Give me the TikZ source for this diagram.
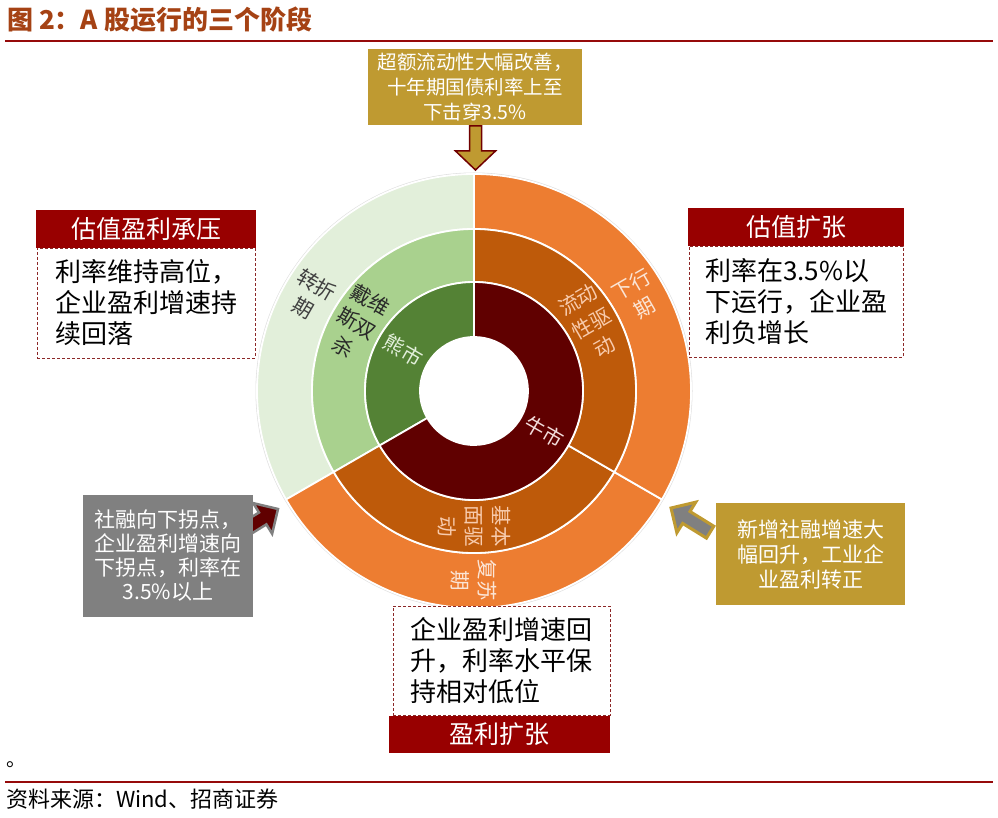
\documentclass[tikz,border=0pt]{standalone}
\usepackage{fontspec}
\setmainfont{Noto Sans CJK SC}
\usetikzlibrary{calc}
\definecolor{barred}{RGB}{152,0,0}
\definecolor{dashred}{RGB}{140,40,40}
\definecolor{rulered}{RGB}{150,10,10}
\definecolor{titlebrown}{RGB}{165,66,20}
\definecolor{gold}{RGB}{191,154,49}
\definecolor{boxgray}{RGB}{128,128,128}
\definecolor{grnA}{RGB}{226,239,218}
\definecolor{grnB}{RGB}{169,209,142}
\definecolor{grnC}{RGB}{84,130,53}
\definecolor{orA}{RGB}{237,125,49}
\definecolor{orB}{RGB}{190,90,10}
\definecolor{darkred}{RGB}{96,0,0}
\definecolor{arrowred}{RGB}{112,0,0}
\newcommand\ringseg[5]{%
  \fill[#1,draw=white,line width=1.8pt] ($(C)+(#2:#5)$) arc[start angle=#2,end angle=#3,radius=#5pt] -- ($(C)+(#3:#4)$) arc[start angle=#3,end angle=#2,radius=#4pt] -- cycle;}
\newcommand\blockarrow{(0,0) -- (-18,18) -- (-18,7) -- (-46,7) -- (-46,-7) -- (-18,-7) -- (-18,-18) -- cycle}
\tikzset{
  ringlbl/.style={font=\fontsize{20.5}{27}\selectfont, align=center, inner sep=0pt},
  barbox/.style={fill=barred, text=white, inner sep=0pt, font=\fontsize{25}{27}\selectfont},
  dbox/.style={draw=dashred, dashed, dash pattern=on 3pt off 2pt, line width=0.8pt, fill=white, inner sep=0pt, align=left, font=\fontsize{26}{31}\selectfont},
  fillbox/.style={inner sep=0pt, text=white, align=center},
}
\begin{document}
\begin{tikzpicture}[x=1pt,y=1pt]
\useasboundingbox (0,0) rectangle (998,817);
% title and rules
\node[anchor=west, inner sep=0pt, text=titlebrown, font=\bfseries\fontsize{26}{28}\selectfont] (title) at (7,797) {图 2：A 股运行的三个阶段};
\draw[rulered, line width=2.2pt] (5,776) -- (993,776);
\draw[rulered, line width=2.2pt] (5,35) -- (993,35);
\node[anchor=west, inner sep=0pt, font=\fontsize{20}{22}\selectfont] (dot) at (6,52) {。};
\node[anchor=west, inner sep=0pt, font=\fontsize{22}{24}\selectfont] (source) at (6,18) {资料来源：Wind、招商证券};
% sunburst
\coordinate (C) at (474,426);
\draw[gray!25, line width=1pt] (C) circle[radius=218pt];
\ringseg{grnA}{90}{210}{162}{217}
\ringseg{orA}{210}{330}{162}{217}
\ringseg{orA}{330}{450}{162}{217}
\ringseg{grnB}{90}{210}{109}{162}
\ringseg{orB}{210}{330}{109}{162}
\ringseg{orB}{330}{450}{109}{162}
\ringseg{grnC}{90}{210}{54}{109}
\ringseg{darkred}{210}{450}{54}{109}
% ring labels
\node[ringlbl, text={rgb,255:red,64;green,64;blue,64}, rotate=-30] (zhe) at ($(C)+(150:189.5)$) {转折\\期};
\node[ringlbl, text={rgb,255:red,40;green,40;blue,40}, rotate=-30] (dai) at ($(C)+(150:135.5)$) {戴维\\斯双\\杀};
\node[ringlbl, text=grnA, rotate=-30] (xiong) at ($(C)+(150:81.5)$) {熊市};
\node[ringlbl, text={rgb,255:red,248;green,203;blue,173}, rotate=30] (liu) at ($(C)+(30:135.5)$) {流动\\性驱\\动};
\node[ringlbl, text={rgb,255:red,251;green,229;blue,214}, rotate=30] (xia) at ($(C)+(30:189.5)$) {下行\\期};
\node[ringlbl, text={rgb,255:red,242;green,220;blue,219}, rotate=-30] (niu) at ($(C)+(-30:81.5)$) {牛市};
\node[ringlbl, text={rgb,255:red,248;green,203;blue,173}, rotate=-90] (ji) at ($(C)+(270:135.5)$) {基本\\面驱\\动};
\node[ringlbl, text={rgb,255:red,251;green,229;blue,214}, rotate=-90] (fu) at ($(C)+(270:189.5)$) {复苏\\期};
% arrows
\draw[fill=gold, draw=arrowred, line width=1.5pt, line join=miter] (469.5,691) -- (469.5,666) -- (455.5,666) -- (475.5,647) -- (495.5,666) -- (481.5,666) -- (481.5,691) -- cycle;
\draw[fill=darkred, draw=boxgray, line width=2.5pt, line join=miter, shift={(278,308)}, rotate=31.7] \blockarrow;
\draw[fill=boxgray, draw=gold, line width=3pt, line join=miter, shift={(671,309)}, rotate=148.3] \blockarrow;
% boxes
\node[fillbox, fill=gold, minimum width=214pt, minimum height=76pt, font=\fontsize{19.5}{25}\selectfont] (topbox) at (475,730) {超额流动性大幅改善，\\十年期国债利率上至\hspace*{0.8em}\\下击穿3.5\%};
\node[fillbox, fill=boxgray, minimum width=170pt, minimum height=122pt, font=\fontsize{21}{24}\selectfont] (graybox) at (168,261) {社融向下拐点，\\企业盈利增速向\\下拐点，利率在\\3.5\%以上};
\node[fillbox, fill=gold, minimum width=189pt, minimum height=102pt, font=\fontsize{21}{25}\selectfont] (goldbox) at (810.5,263) {新增社融增速大\\幅回升，工业企\\业盈利转正};
\node[barbox, minimum width=220pt, minimum height=38pt] (lbar) at (146,588) {估值盈利承压};
\node[dbox, minimum width=218pt, minimum height=110pt] (lbox) at (146,514) {利率维持高位，\\企业盈利增速持\\续回落};
\node[barbox, minimum width=216pt, minimum height=38pt] (rbar) at (796,590) {估值扩张};
\node[dbox, minimum width=214pt, minimum height=111pt] (rbox) at (796,515.5) {利率在3.5\%以\\下运行，企业盈\\利负增长};
\node[dbox, minimum width=217pt, minimum height=109pt] (bbox) at (501.5,156.5) {企业盈利增速回\\升，利率水平保\\持相对低位};
\node[barbox, minimum width=221pt, minimum height=37pt] (bbar) at (499.5,82.5) {盈利扩张};
\end{tikzpicture}
\end{document}
